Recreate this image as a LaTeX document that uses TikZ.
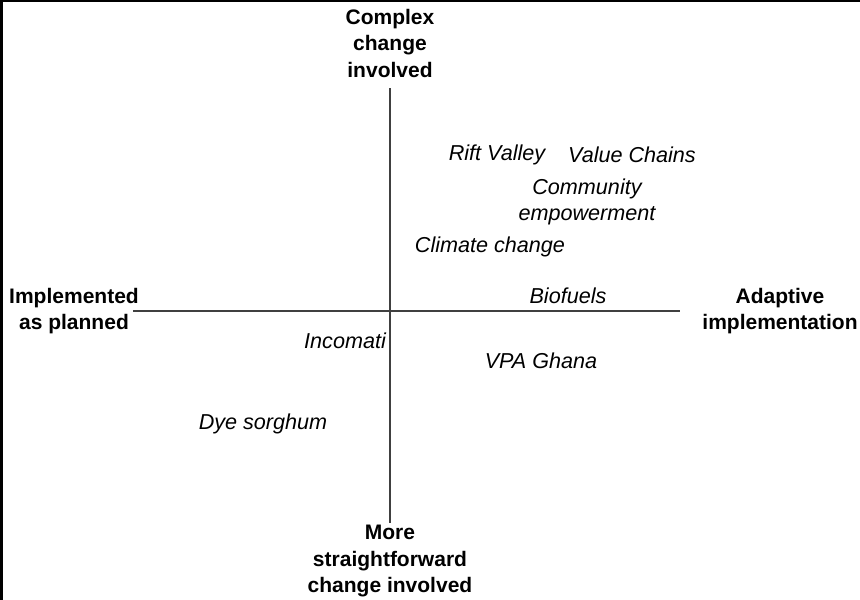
\documentclass[tikz,border=0pt]{standalone}
\usepackage{fontspec}
\setmainfont{Liberation Sans}
\usetikzlibrary{positioning}

\tikzset{
  axis/.style={draw=black!75, line width=1.2pt},
  pole/.style={font=\fontsize{21}{26.5}\selectfont\bfseries, align=center, inner sep=0pt},
  case/.style={font=\fontsize{21.6}{26}\selectfont\itshape, align=center, inner sep=0pt}
}

\begin{document}
\begin{tikzpicture}[x=1pt,y=-1pt]
  \useasboundingbox (0,0) rectangle (860,600);
  \draw[line width=3pt] (1.5,600) -- (1.5,0.5) -- (860,0.5);

  % axes
  \coordinate (top) at (390,88);
  \coordinate (bot) at (390,523);
  \coordinate (lft) at (133,311);
  \coordinate (rgt) at (680,311);
  \draw[axis] (top) -- (bot);
  \draw[axis] (lft) -- (rgt);

  % poles
  \node[pole] (complex)  at (390,43)  {Complex\\change\\involved};
  \node[pole] (planned)  at (74,311)  {Implemented\\as planned};
  \node[pole] (adaptive) at (780,311) {Adaptive\\implementation};
  \node[pole] (simple)   at (390,561) {More\\straightforward\\change involved};

  % cases
  \node[case] (rift)      at (497,155) {Rift Valley};
  \node[case] (chains)    at (632,155) {Value Chains};
  \node[case] (community) at (587,202) {Community\\empowerment};
  \node[case] (climate)   at (490,247) {Climate change};
  \node[case] (biofuels)  at (568,296) {Biofuels};
  \node[case] (incomati)  at (345,341) {Incomati};
  \node[case] (vpa)       at (541,361) {VPA Ghana};
  \node[case] (dye)       at (263,424) {Dye sorghum};
\end{tikzpicture}
\end{document}
